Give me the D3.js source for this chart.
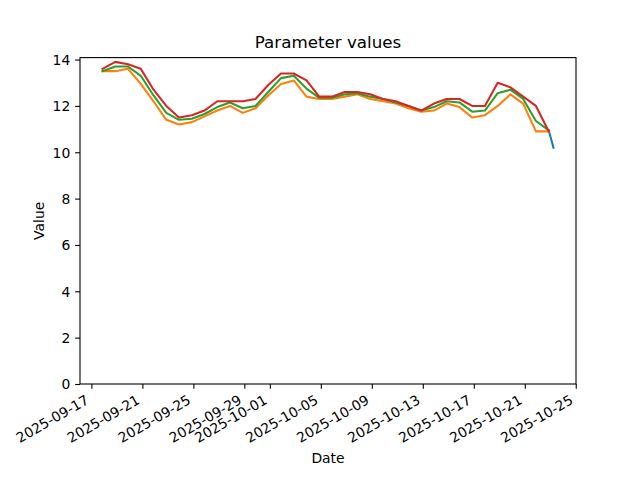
<!DOCTYPE html>
<html>
<head>
<meta charset="utf-8">
<script src="https://cdn.jsdelivr.net/npm/d3@7"></script>
<style>
  html, body { margin: 0; padding: 0; background: #fff; }
  svg { display: block; font-family: "DejaVu Sans", sans-serif; }
</style>
</head>
<body>
<svg id="chart" width="640" height="480"></svg>
<script>
// ---- data ----
const startDate = "2025-09-17T21:00:00";
const seriesNames = ["current", "low", "mid", "high"];
const highValues = [13.6, 13.9, 13.8, 13.6, 12.7, 12.0, 11.5, 11.6, 11.8, 12.2, 12.2, 12.2,
  12.3, 12.9, 13.4, 13.4, 13.1, 12.4, 12.4, 12.6, 12.6, 12.5, 12.3, 12.2,
  12.0, 11.8, 12.1, 12.3, 12.3, 12.0, 12.0, 13.0, 12.8, 12.4, 12.0, 10.9];
const midValues = [13.5, 13.7, 13.7, 13.3, 12.45, 11.7, 11.4, 11.45, 11.65, 11.95, 12.15, 11.9,
  12.0, 12.6, 13.2, 13.3, 12.75, 12.35, 12.35, 12.5, 12.55, 12.4, 12.3, 12.15,
  12.0, 11.8, 11.95, 12.2, 12.15, 11.75, 11.8, 12.55, 12.7, 12.3, 11.35, 10.95];
const lowValues = [13.5, 13.5, 13.6, 12.95, 12.2, 11.4, 11.2, 11.3, 11.55, 11.8, 12.0, 11.7,
  11.9, 12.45, 12.95, 13.1, 12.4, 12.3, 12.3, 12.4, 12.5, 12.3, 12.2, 12.1,
  11.9, 11.75, 11.8, 12.1, 11.95, 11.5, 11.6, 12.0, 12.5, 12.1, 10.9, 10.9];
const currentTimes = ["2025-10-22T21:00:00", "2025-10-23T00:00:00", "2025-10-23T03:00:00", "2025-10-23T06:00:00"];
const currentValues = [10.95, 10.7, 10.45, 10.2];
const xTickLabels = ["2025-09-17", "2025-09-21", "2025-09-25", "2025-09-29", "2025-10-01",
  "2025-10-05", "2025-10-09", "2025-10-13", "2025-10-17", "2025-10-21", "2025-10-25"];
const yTicks = [0, 2, 4, 6, 8, 10, 12, 14];
const colors = ["#1f77b4", "#ff7f0e", "#2ca02c", "#d62728"];

// ---- build ----
const parse = d3.isoParse;
const t0 = parse(startDate);
const dailyDates = highValues.map((_, i) => d3.timeDay.offset(t0, i));
const series = [
  { name: seriesNames[0], pts: currentTimes.map((t, i) => ({ d: parse(t), v: currentValues[i] })) },
  { name: seriesNames[1], pts: lowValues.map((v, i) => ({ d: dailyDates[i], v })) },
  { name: seriesNames[2], pts: midValues.map((v, i) => ({ d: dailyDates[i], v })) },
  { name: seriesNames[3], pts: highValues.map((v, i) => ({ d: dailyDates[i], v })) }
];

const W = 640, H = 480;
const m = { left: 80, right: 576, top: 57.6, bottom: 384 };

const allPts = series.flatMap(s => s.pts);
const [dmin, dmax] = d3.extent(allPts, p => +p.d);
const pad = (dmax - dmin) * 0.05;
const x = d3.scaleTime().domain([new Date(dmin - pad), new Date(+dmax + pad)]).range([m.left, m.right]);
const [vmin, vmax] = d3.extent(allPts, p => p.v);
const yTop = vmax + (vmax - vmin) * 0.05;
const y = d3.scaleLinear().domain([0, yTop]).range([m.bottom, m.top]);

const svg = d3.select("#chart");
svg.append("rect").attr("width", W).attr("height", H).attr("fill", "#fff");

const line = d3.line().x(p => x(p.d)).y(p => y(p.v));
const clip = svg.append("clipPath").attr("id", "clip").append("rect")
  .attr("x", m.left).attr("y", m.top).attr("width", m.right - m.left).attr("height", m.bottom - m.top);

svg.append("g").attr("clip-path", "url(#clip)")
  .selectAll("path").data(series).join("path")
  .attr("d", s => line(s.pts))
  .attr("fill", "none")
  .attr("stroke", (s, i) => colors[i])
  .attr("stroke-width", 2.08)
  .attr("stroke-linejoin", "round")
  .attr("stroke-linecap", "square");

const fs = 13.9;
// x axis
const xTickDates = xTickLabels.map(s => parse(s + "T00:00:00"));
const xAxis = d3.axisBottom(x).tickValues(xTickDates).tickSize(4.86).tickFormat("");
const gx = svg.append("g").attr("transform", `translate(0,${m.bottom})`).call(xAxis);
gx.select(".domain").remove();
gx.selectAll(".tick line").attr("stroke", "#000").attr("stroke-width", 1.1);

svg.append("g").selectAll("text").data(xTickDates).join("text")
  .attr("transform", d => `translate(${x(d) - 1.6},${m.bottom + 9.72 + 0.866 * 10.6}) rotate(-30)`)
  .attr("text-anchor", "end")
  .attr("font-size", fs)
  .attr("fill", "#000")
  .text((d, i) => xTickLabels[i]);

// y axis
const yAxis = d3.axisLeft(y).tickValues(yTicks).tickSize(4.86).tickPadding(4.86).tickFormat(d3.format("d"));
const gy = svg.append("g").attr("transform", `translate(${m.left},0)`).call(yAxis);
gy.select(".domain").remove();
gy.selectAll(".tick line").attr("stroke", "#000").attr("stroke-width", 1.1);
gy.selectAll(".tick text").attr("font-size", fs).attr("font-family", "DejaVu Sans").attr("fill", "#000").attr("dy", "0.35em");

// frame
svg.append("rect").attr("x", m.left).attr("y", m.top)
  .attr("width", m.right - m.left).attr("height", m.bottom - m.top)
  .attr("fill", "none").attr("stroke", "#000").attr("stroke-width", 1.1);

// labels
svg.append("text").attr("x", (m.left + m.right) / 2).attr("y", 47.5)
  .attr("text-anchor", "middle").attr("font-size", 16.7).text("Parameter values");
svg.append("text").attr("x", (m.left + m.right) / 2).attr("y", 462.5)
  .attr("text-anchor", "middle").attr("font-size", fs).text("Date");
svg.append("text").attr("transform", `translate(43.5,${(m.top + m.bottom) / 2}) rotate(-90)`)
  .attr("text-anchor", "middle").attr("font-size", fs).text("Value");
</script>
</body>
</html>
